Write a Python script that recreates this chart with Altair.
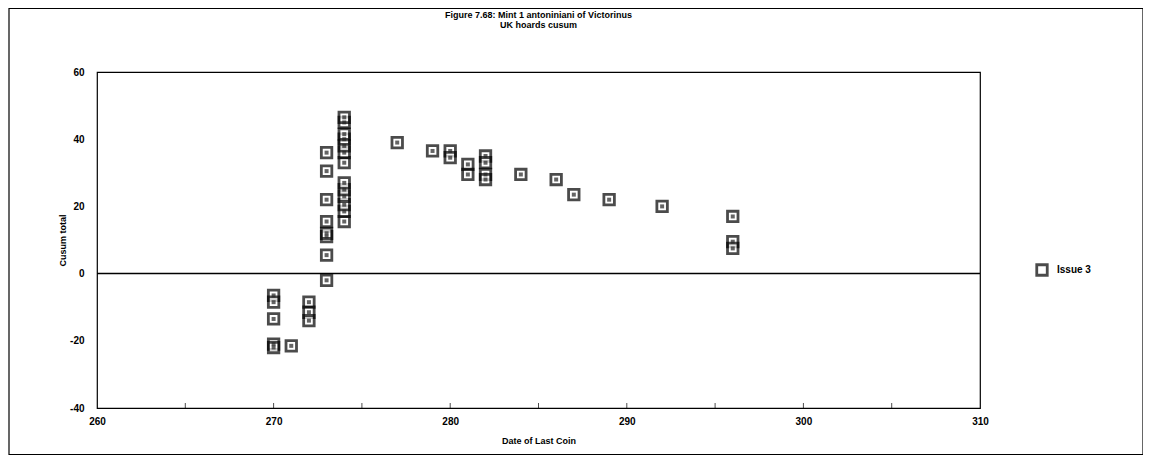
import altair as alt
import pandas as pd

# Data (date of last coin, cusum total)
x_270 = [-6.5, -8.5, -13.5, -21, -22]
x_271 = [-21.5]
x_272 = [-8.5, -11.5, -14]
x_273 = [-2, 5.5, 11, 12, 15.5, 22, 30.5, 36]
x_274 = [15.5, 18.5, 20.5, 23, 25, 27, 33, 36, 38, 40, 41.5, 45, 46.5]
x_277 = [39]
x_279 = [36.5]
x_280 = [36.5, 34.5]
x_281 = [32.5, 29.5]
x_282 = [35, 33, 29.5, 28]
x_284 = [29.5]
x_286 = [28]
x_287 = [23.5]
x_289 = [22]
x_292 = [20]
x_296 = [17, 9.5, 7.5]

groups = {270: x_270, 271: x_271, 272: x_272, 273: x_273, 274: x_274, 277: x_277,
          279: x_279, 280: x_280, 281: x_281, 282: x_282, 284: x_284, 286: x_286,
          287: x_287, 289: x_289, 292: x_292, 296: x_296}

x_ticks_major = [260, 270, 280, 290, 300, 310]
x_ticks_minor = [265, 270, 275, 280, 285, 290, 295, 300, 305]
y_ticks = [-40, -20, 0, 20, 40, 60]
title_lines = ["Figure 7.68: Mint 1 antoniniani of Victorinus", "UK hoards cusum"]

rows = []
for d, vals in groups.items():
    for v in vals:
        rows.append({"date": d, "cusum": v, "series": "Issue 3"})
df = pd.DataFrame(rows)

W, H = 883, 336
FONT = "Liberation Sans"

xscale = alt.Scale(domain=[260, 310], nice=False, zero=False)
yscale = alt.Scale(domain=[-40, 60], nice=False, zero=False)

points = alt.Chart(df).mark_square(size=110, filled=True, fill="white", strokeWidth=2.8).encode(
    x=alt.X("date:Q", scale=xscale,
            axis=alt.Axis(values=x_ticks_major, title="Date of Last Coin", format="d",
                          grid=False, labelPadding=8, titlePadding=10, labelFlush=False)),
    y=alt.Y("cusum:Q", scale=yscale,
            axis=alt.Axis(values=y_ticks, title="Cusum total", labelPadding=13, grid=False,
                          labelFlush=False,
                          labelExpr="replace(datum.label, '\u2212', '-')",
                          titleX=-30, titleY=H / 2)),
    stroke=alt.Stroke("series:N", scale=alt.Scale(range=["black"]),
                      legend=alt.Legend(title=None, orient="none", legendX=938, legendY=191,
                                        symbolType="square", symbolSize=110,
                                        symbolFillColor="white", symbolStrokeWidth=2.8,
                                        labelFont=FONT, labelFontSize=10, labelFontWeight="bold",
                                        labelColor="black", labelOffset=8, padding=0)),
)

inner = alt.Chart(df).mark_square(size=16, color="#222222").encode(
    x=alt.X("date:Q", scale=xscale),
    y=alt.Y("cusum:Q", scale=yscale),
)

zero_df = pd.DataFrame({"y": [0]})
zero = alt.Chart(zero_df).mark_rule(color="black", strokeWidth=1.5).encode(
    y=alt.Y("y:Q", scale=yscale)
)

tick_df = pd.DataFrame({"t": x_ticks_minor})
ticks = alt.Chart(tick_df).mark_tick(color="black", size=5, thickness=1, orient="vertical").encode(
    x=alt.X("t:Q", scale=xscale),
    y=alt.value(H - 2.5),
)

one = pd.DataFrame({"a": [0]})
frame_left = alt.Chart(one).mark_rule(color="black", strokeWidth=1.2).encode(
    x=alt.value(-88), y=alt.value(-64), y2=alt.value(383))
frame_right = alt.Chart(one).mark_rule(color="black", strokeWidth=1.2).encode(
    x=alt.value(1046), y=alt.value(-64), y2=alt.value(383))
frame_top = alt.Chart(one).mark_rule(color="black", strokeWidth=1.2).encode(
    x=alt.value(-88), x2=alt.value(1046), y=alt.value(-63.5))
frame_bottom = alt.Chart(one).mark_rule(color="black", strokeWidth=1.2).encode(
    x=alt.value(-88), x2=alt.value(1046), y=alt.value(382.5))

title1 = alt.Chart(one).mark_text(font=FONT, fontSize=9, fontWeight="bold", color="black",
                                   align="center", baseline="middle").encode(
    x=alt.value(W / 2), y=alt.value(-57.5), text=alt.value(title_lines[0]))
title2 = alt.Chart(one).mark_text(font=FONT, fontSize=9, fontWeight="bold", color="black",
                                   align="center", baseline="middle").encode(
    x=alt.value(W / 2), y=alt.value(-47.5), text=alt.value(title_lines[1]))

chart = alt.layer(zero, ticks, points, inner, frame_left, frame_right, frame_top, frame_bottom,
                  title1, title2).properties(
    width=W, height=H,
    background="white",
    autosize=alt.AutoSizeParams(type="none"),
    padding={"left": 89, "top": 64, "right": 163, "bottom": 47},
).configure_view(
    stroke="black", strokeWidth=1.2
).configure_axis(
    domain=False, grid=False, ticks=False,
    labelFont=FONT, labelFontSize=10, labelFontWeight="bold", labelColor="black",
    titleFont=FONT, titleFontSize=9, titleFontWeight="bold", titleColor="black",
)

chart.save("out.html", embed_options={"renderer": "svg", "actions": False})
